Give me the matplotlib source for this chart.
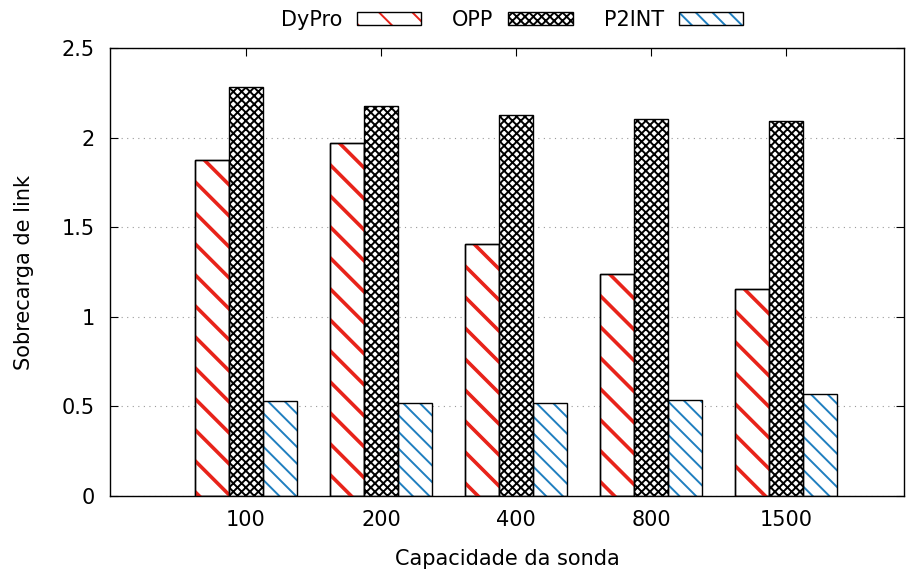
import numpy as np
import matplotlib
matplotlib.use("Agg")
from matplotlib import pyplot as plt
from matplotlib.patches import Patch
from matplotlib.legend_handler import HandlerTuple

# data
categories = ["100", "200", "400", "800", "1500"]
dypro = [1.875, 1.97, 1.405, 1.24, 1.155]
opp = [2.285, 2.175, 2.125, 2.105, 2.095]
p2int = [0.53, 0.52, 0.52, 0.535, 0.57]
series_names = ["DyPro", "OPP", "P2INT"]

RED = "#e8231a"
BLUE = "#1f7fc0"

plt.rcParams['font.family'] = ['DejaVu Sans']
plt.rcParams['hatch.linewidth'] = 1.4

fig = plt.figure(figsize=(9.12, 5.74), dpi=100)
ax = fig.add_axes([110/912, 78/574, 794/912, 448/574])

x = np.arange(len(categories))
w = 0.25
xlim = (-1.007, 4.874)
ylim = (0, 2.5)
ax.set_xlim(*xlim)
ax.set_ylim(*ylim)

# pixels per data unit (axes is 794 x 448 px)
px_x = 794 / (xlim[1] - xlim[0])
px_y = 448 / (ylim[1] - ylim[0])

# DyPro: white boxes with sparse thick red stripes
dy_bars = ax.bar(x - w, dypro, w, facecolor="white", edgecolor="black", linewidth=1.0, zorder=2)
step = 31 / px_y          # vertical gap between stripes
slope = -px_x / px_y      # -1 in pixel space
for bar in dy_bars:
    bx0 = bar.get_x()
    bx1 = bx0 + bar.get_width()
    top = bar.get_height()
    yy = top + 0.05
    while yy > -0.5:
        ln = ax.plot([bx0 - 0.05, bx1 + 0.05],
                     [yy - 0.05 * slope, yy + (bx1 - bx0 + 0.05) * slope],
                     color=RED, linewidth=2.6, zorder=3, solid_capstyle="butt")[0]
        ln.set_clip_path(bar)
        yy -= step
    ax.bar(bar.get_x() + bar.get_width() / 2, top, bar.get_width(),
           fill=False, edgecolor="black", linewidth=1.0, zorder=4)

# OPP: black crosshatch
ax.bar(x, opp, w, facecolor="white", edgecolor="black", hatch="xxxx", linewidth=0, zorder=2)
ax.bar(x, opp, w, fill=False, edgecolor="black", linewidth=1.0, zorder=4)
# P2INT: blue diagonal
ax.bar(x + w, p2int, w, facecolor="white", edgecolor=BLUE, hatch="\\\\", linewidth=0, zorder=2)
ax.bar(x + w, p2int, w, fill=False, edgecolor="black", linewidth=1.0, zorder=4)

ax.set_xticks(x)
ax.set_xticklabels(categories)
ax.set_yticks([0, 0.5, 1, 1.5, 2, 2.5])
ax.set_yticklabels(["0", "0.5", "1", "1.5", "2", "2.5"])
ax.tick_params(direction="in", top=True, right=True, labelsize=15, length=6)
ax.tick_params(axis="x", pad=10)
ax.tick_params(axis="y", pad=11)
ax.grid(axis="y", linestyle=(0, (1, 4)), color="#999999", linewidth=0.8, zorder=0)
for s in ax.spines.values():
    s.set_linewidth(1.0)

ax.set_xlabel("Capacidade da sonda", fontsize=15, labelpad=14)
ax.set_ylabel("Sobrecarga de link", fontsize=15, labelpad=20)

h_dy = (Patch(facecolor="white", edgecolor=RED, hatch="\\", linewidth=0),
        Patch(fill=False, edgecolor="black", linewidth=1.0))
h_opp = (Patch(facecolor="white", edgecolor="black", hatch="xxxx", linewidth=0),
         Patch(fill=False, edgecolor="black", linewidth=1.0))
h_p2 = (Patch(facecolor="white", edgecolor=BLUE, hatch="\\\\", linewidth=0),
        Patch(fill=False, edgecolor="black", linewidth=1.0))
fig.legend([h_dy, h_opp, h_p2], series_names, handler_map={tuple: HandlerTuple(ndivide=1)},
           loc="center", bbox_to_anchor=(512/912, 1 - 20/574), ncol=3, frameon=False,
           markerfirst=False, handlelength=3.1, handleheight=0.6, columnspacing=1.5,
           handletextpad=0.7, fontsize=15, borderpad=0.0)

fig.savefig("out.png", dpi=100)
